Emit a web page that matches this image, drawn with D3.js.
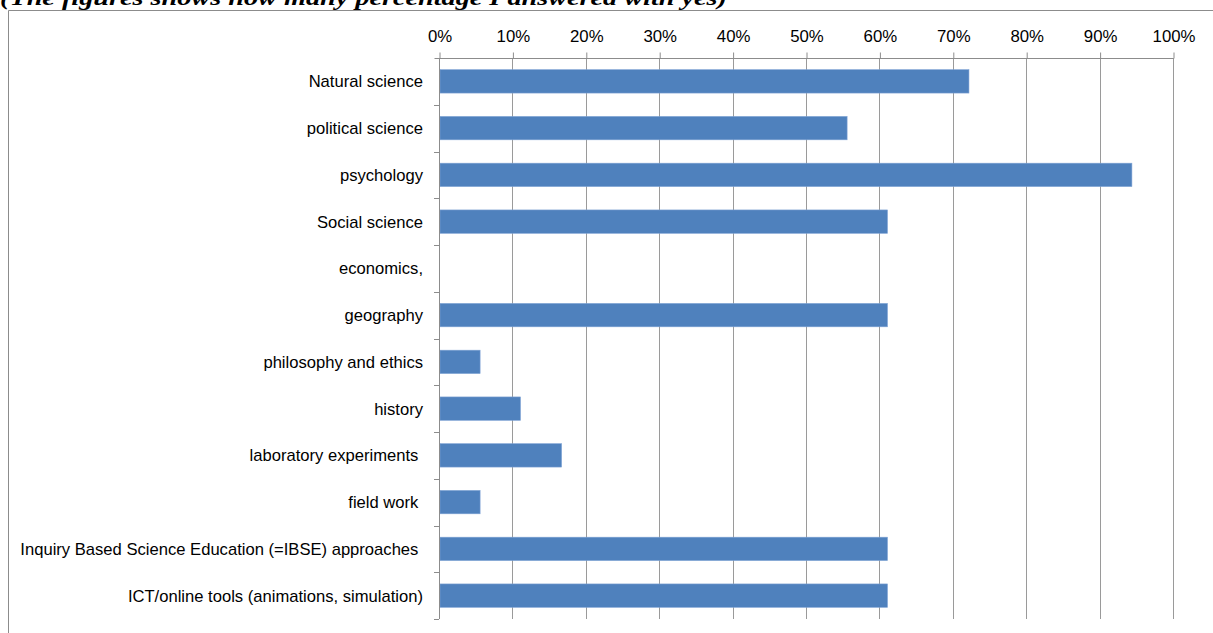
<!DOCTYPE html>
<html>
<head>
<meta charset="utf-8">
<script src="https://cdn.jsdelivr.net/npm/d3@7"></script>
<style>
html,body{margin:0;padding:0;background:#fff;}
svg{display:block;}
</style>
</head>
<body>
<svg id="chart" width="1213" height="633"></svg>
<script>
const categories = [
  "Natural science",
  "political science",
  "psychology",
  "Social science",
  "economics,",
  "geography",
  "philosophy and ethics",
  "history",
  "laboratory experiments ",
  "field work ",
  "Inquiry Based Science Education (=IBSE) approaches ",
  "ICT/online tools (animations, simulation)"
];
const values = [0.722, 0.556, 0.944, 0.611, 0, 0.611, 0.056, 0.111, 0.167, 0.056, 0.611, 0.611];
const tickValues = [0, 0.1, 0.2, 0.3, 0.4, 0.5, 0.6, 0.7, 0.8, 0.9, 1.0];
const titleText = "(The figures shows how many percentage I answered with yes)";

const svg = d3.select("#chart");
const m = {left: 439, right: 1173, top: 58, bottom: 619};

// chart area border (left + top)
svg.append("path")
  .attr("d", "M8.5,633 L8.5,10.5 L1213,10.5")
  .attr("fill", "none").attr("stroke", "#8c8c8c").attr("stroke-width", 1);

// title (clipped by window top)
svg.append("text")
  .attr("x", 0).attr("y", 5)
  .attr("font-family", "Liberation Serif, serif")
  .attr("font-weight", "bold").attr("font-style", "italic")
  .attr("font-size", 22)
  .attr("textLength", 727).attr("lengthAdjust", "spacingAndGlyphs")
  .attr("fill", "#000")
  .text(titleText);

const x = d3.scaleLinear().domain([0, 1]).range([m.left, m.right]);
const y = d3.scaleBand().domain(categories).range([m.top, m.bottom])
  .paddingInner(0.5).paddingOuter(0.25);

// gridlines
svg.append("g").selectAll("line").data(tickValues.slice(1)).join("line")
  .attr("x1", d => Math.round(x(d)) + 0.5).attr("x2", d => Math.round(x(d)) + 0.5)
  .attr("y1", m.top).attr("y2", m.bottom)
  .attr("stroke", "#9a9a9a").attr("stroke-width", 1);

// top axis
const xAxis = d3.axisTop(x).tickValues(tickValues).tickFormat(d3.format(".0%"))
  .tickSize(6).tickPadding(11);
const gx = svg.append("g").attr("transform", `translate(0.5,${m.top + 0.5})`).call(xAxis);
gx.select(".domain").attr("stroke", "#8c8c8c").attr("d", `M${m.left - 5},0H${m.right}`);
gx.selectAll(".tick line").attr("stroke", "#8c8c8c");
gx.selectAll("text").attr("font-family", "Liberation Sans, Arial, sans-serif")
  .attr("font-size", 16.8).attr("fill", "#000");

// bars
svg.append("g").selectAll("rect").data(categories).join("rect")
  .attr("x", x(0) + 1)
  .attr("y", d => y(d))
  .attr("width", (d, i) => Math.max(0, x(values[i]) - x(0) - 1))
  .attr("height", y.bandwidth())
  .attr("fill", "#4f81bd")
  .attr("stroke", "#7ea2d4").attr("stroke-width", 0.6)
  .attr("display", (d, i) => values[i] > 0 ? null : "none");

// left axis line and boundary ticks
const step = y.step();
const boundaries = d3.range(categories.length + 1).map(i => m.top + i * step);
svg.append("line")
  .attr("x1", m.left + 0.5).attr("x2", m.left + 0.5)
  .attr("y1", m.top).attr("y2", m.bottom)
  .attr("stroke", "#8c8c8c");
svg.append("g").selectAll("line").data(boundaries.slice(1)).join("line")
  .attr("x1", m.left - 5).attr("x2", m.left)
  .attr("y1", d => Math.round(d) + 0.5).attr("y2", d => Math.round(d) + 0.5)
  .attr("stroke", "#8c8c8c");

// category labels
svg.append("g").selectAll("text").data(categories).join("text")
  .attr("x", 423)
  .attr("y", d => y(d) + y.bandwidth() / 2)
  .attr("dy", "0.36em")
  .attr("text-anchor", "end")
  .attr("xml:space", "preserve")
  .style("white-space", "pre")
  .attr("font-family", "Liberation Sans, Arial, sans-serif")
  .attr("font-size", 16.6)
  .attr("fill", "#000")
  .text(d => d);
</script>
</body>
</html>
